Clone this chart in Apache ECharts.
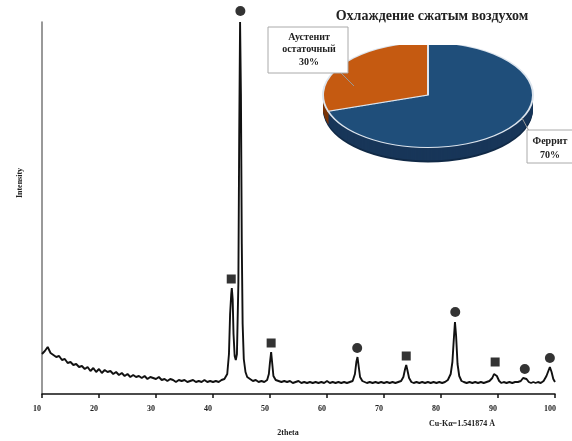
<!DOCTYPE html>
<html><head><meta charset="utf-8">
<script src="https://cdn.jsdelivr.net/npm/echarts@6/dist/echarts.min.js"></script>
<style>
html,body{margin:0;padding:0;background:#fff;}
#main{position:absolute;left:0;top:0;width:572px;height:441px;z-index:2;}
#pie{position:absolute;left:322px;top:45px;width:212px;height:240px;z-index:1;transform:scaleY(0.5);transform-origin:0 0;}
</style></head>
<body>
<div id="pie"></div>
<div id="main"></div>
<script>
// XRD pattern (2theta, intensity in arbitrary units)
const twoTheta = [10,10.5,11,11.5,12,12.5,13,13.5,14,14.5,15,15.5,16,16.5,17,17.5,18,18.5,19,19.5,20,20.5,21,21.5,22,22.5,23,23.5,24,24.5,25,25.5,26,26.5,27,27.5,28,28.5,29,29.5,30,30.5,31,31.5,32,32.5,33,33.5,34,34.5,35,35.5,36,36.5,37,37.5,38,38.5,39,39.5,40,40.5,41,41.5,42,42.5,42.8,43.0,43.2,43.3,43.45,43.6,43.8,44.0,44.2,44.45,44.6,44.75,44.9,45.05,45.2,45.4,45.7,46,46.5,47,47.5,48,48.5,49,49.5,49.8,50.0,50.2,50.4,50.6,51,51.5,52,52.5,53,53.5,54,54.5,55,55.5,56,56.5,57,57.5,58,58.5,59,59.5,60,60.5,61,61.5,62,62.5,63,63.5,64,64.5,64.9,65.15,65.35,65.55,65.8,66.2,66.5,67,67.5,68,68.5,69,69.5,70,70.5,71,71.5,72,72.5,73,73.4,73.7,73.9,74.1,74.4,74.8,75.2,75.7,76.2,76.7,77.2,77.7,78.2,78.7,79.2,79.7,80.2,80.7,81.2,81.7,82.0,82.25,82.45,82.65,82.9,83.2,83.6,84,84.5,85,85.5,86,86.5,87,87.5,88,88.5,89,89.3,89.5,89.8,90.2,90.6,91,91.5,92,92.5,93,93.5,94,94.4,94.7,95,95.4,95.8,96.2,96.6,97,97.5,98,98.5,98.9,99.1,99.4,99.7,100];
const intensity = [40,43,47,41,39,37,38,34,35,31,32,29,30,27,28,25,27,23,26,22,25,21,24,22,23,20,22,19,21,18,20,17,19,17,18,16,18,15,17,16,15,17,14,15,13,15,14,12,14,13,14,12,13,14,12,13,12,14,12,13,12,13,12,14,15,20,40,80,100,106,95,60,38,34,40,110,260,372,300,150,70,35,22,17,15,13,14,12,13,12,14,20,32,42,30,18,14,13,12,13,12,13,11,12,13,11,12,11,12,11,12,11,12,11,13,11,12,11,12,11,12,11,12,13,20,32,37,28,17,13,12,11,12,11,12,11,12,11,12,11,12,11,12,13,17,25,29,24,16,12,11,12,11,12,11,12,11,12,11,12,11,12,14,20,32,55,72,58,30,18,13,12,11,12,11,12,11,12,11,12,13,16,20,22,18,13,11,12,11,12,11,12,12,13,16,18,15,12,11,12,11,12,11,13,18,24,27,22,15,12];
// phase markers over peaks
const circlePeaks = [[44.8,383],[65.3,46],[82.5,82],[94.7,25],[99.1,36]];
const squarePeaks = [[43.2,115],[50.2,51],[73.9,38],[89.5,32]];
const xTicks = {min:10, max:100, step:10};
// pie inset
const phaseNames = ['Феррит','Аустенит\nостаточный'];
const phaseShares = [70,30];
const pieTitle = 'Охлаждение сжатым воздухом';

const serif = '"Liberation Serif","DejaVu Serif",serif';

// ---------- pie (3D look via stacked pies, squashed by CSS) ----------
const pie = echarts.init(document.getElementById('pie'));
const topColors = ['#1f4e7a','#c55a11'];
const wallColors = ['#183659','#7a3508'];
const pieSeries = [];
for (let k = 30; k >= 2; k -= 2) {
  pieSeries.push({
    type:'pie', radius:105, center:[106,100+k], startAngle:90, clockwise:true,
    silent:true, label:{show:false}, labelLine:{show:false}, animation:false,
    data: phaseShares.map((v,i)=>({value:v, name:phaseNames[i], itemStyle:{color: k>=28 ? '#112a47' : wallColors[i]}}))
  });
}
pieSeries.push({
  type:'pie', radius:105, center:[106,100], startAngle:90, clockwise:true,
  silent:true, label:{show:false}, labelLine:{show:false}, animation:false,
  itemStyle:{borderColor:'#dde5ee', borderWidth:2},
  data: phaseShares.map((v,i)=>({value:v, name:phaseNames[i], itemStyle:{color: topColors[i]}}))
});
pie.setOption({animation:false, series:pieSeries});

// ---------- main XRD chart ----------
const chart = echarts.init(document.getElementById('main'));
const lbl = {fontFamily:serif, fontWeight:'bold', fill:'#222'};
chart.setOption({
  animation:false,
  grid:{left:42, right:17, top:22, bottom:47},
  xAxis:{type:'value', min:xTicks.min, max:xTicks.max, interval:xTicks.step,
    axisLine:{lineStyle:{color:'#111', width:1.5}},
    axisTick:{show:true, length:4, lineStyle:{color:'#111', width:1.5}},
    splitLine:{show:false},
    axisLabel:{fontSize:8, fontWeight:'bold', fontFamily:serif, color:'#222', margin:11, padding:[0,10,0,0]}},
  yAxis:{type:'value', min:0, max:372,
    axisLine:{show:true, lineStyle:{color:'#777', width:1.5}},
    axisTick:{show:false}, axisLabel:{show:false}, splitLine:{show:false}},
  series:[
    {type:'line', data: twoTheta.map((t,i)=>[t,intensity[i]]), symbol:'none',
     lineStyle:{color:'#111', width:1.9}, z:2},
    {type:'scatter', data:circlePeaks, symbol:'circle', symbolSize:10, clip:false,
     itemStyle:{color:'#000'}, z:3},
    {type:'scatter', data:squarePeaks, symbol:'rect', symbolSize:9, clip:false,
     itemStyle:{color:'#000'}, z:3}
  ],
  graphic:[
    {type:'text', x:20, y:183, rotation:Math.PI/2, style:Object.assign({text:'Intensity', fontSize:8, textAlign:'center', textVerticalAlign:'middle'}, lbl)},
    {type:'text', x:288, y:433, style:Object.assign({text:'2theta', fontSize:8, textAlign:'center', textVerticalAlign:'middle'}, lbl)},
    {type:'text', x:462, y:424, style:Object.assign({text:'Cu-Kα=1.541874 Å', fontSize:8, textAlign:'center', textVerticalAlign:'middle'}, lbl)},
    {type:'text', x:432, y:16, style:Object.assign({text:pieTitle, fontSize:14, textAlign:'center', textVerticalAlign:'middle'}, lbl)},
    // Austenite label box
    {type:'polyline', shape:{points:[[341,73],[354,86]]}, style:{stroke:'#999', lineWidth:1, fill:null}},
    {type:'rect', shape:{x:268, y:27, width:80, height:46}, style:{fill:'#fff', stroke:'#aaa', lineWidth:1}},
    {type:'text', x:309, y:43, style:Object.assign({text:phaseNames[1], fontSize:10, lineHeight:12, textAlign:'center', textVerticalAlign:'middle'}, lbl)},
    {type:'text', x:309, y:62, style:Object.assign({text:phaseShares[1]+'%', fontSize:10, textAlign:'center', textVerticalAlign:'middle'}, lbl)},
    // Ferrite label box
    {type:'polyline', shape:{points:[[529,131],[522,118]]}, style:{stroke:'#999', lineWidth:1, fill:null}},
    {type:'rect', shape:{x:527, y:130, width:48, height:33}, style:{fill:'#fff', stroke:'#aaa', lineWidth:1}},
    {type:'text', x:550, y:141, style:Object.assign({text:phaseNames[0], fontSize:10, textAlign:'center', textVerticalAlign:'middle'}, lbl)},
    {type:'text', x:550, y:155, style:Object.assign({text:phaseShares[0]+'%', fontSize:10, textAlign:'center', textVerticalAlign:'middle'}, lbl)}
  ]
});
</script>
</body></html>
